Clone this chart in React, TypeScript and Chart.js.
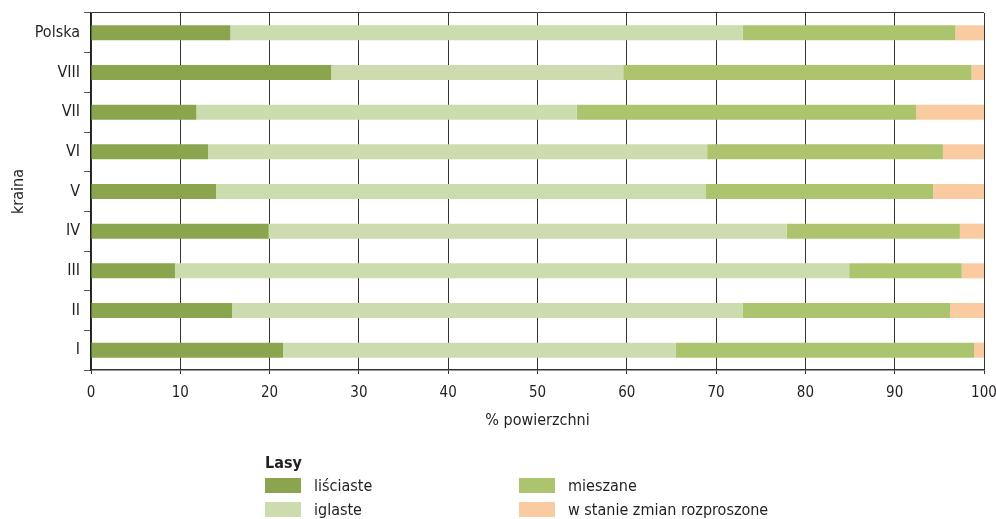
import React, { useEffect, useRef } from "react";
import { Chart, registerables } from "chart.js";

Chart.register(...registerables);

const categories = ["Polska", "VIII", "VII", "VI", "V", "IV", "III", "II", "I"];
const lisciaste = [15.6, 26.9, 11.8, 13.1, 14.0, 19.9, 9.4, 15.8, 21.5];
const iglaste = [57.4, 32.7, 42.6, 55.9, 54.8, 58.0, 75.5, 57.2, 44.0];
const mieszane = [23.8, 39.0, 38.0, 26.4, 25.5, 19.4, 12.6, 23.2, 33.4];
const rozproszone = [3.2, 1.4, 7.6, 4.6, 5.7, 2.7, 2.5, 3.8, 1.1];
const seriesNames = ["liściaste", "iglaste", "mieszane", "w stanie zmian rozproszone"];
const seriesColors = ["#8ba54e", "#cddcae", "#adc46e", "#facba0"];
const xTicks = [0, 10, 20, 30, 40, 50, 60, 70, 80, 90, 100];

const FONT = '"Liberation Sans Narrow", "DejaVu Sans Condensed", "Roboto", sans-serif';
const TEXT = "#231f20";
const GRID = "#333333";

export default function App() {
  const ref = useRef<HTMLCanvasElement | null>(null);
  useEffect(() => {
    document.body.style.margin = "0";
    if (!ref.current) return;
    const values = [lisciaste, iglaste, mieszane, rozproszone];
    const chart = new Chart(ref.current, {
      type: "bar",
      data: {
        labels: categories,
        datasets: values.map((v, i) => ({
          label: seriesNames[i],
          data: v,
          backgroundColor: seriesColors[i],
          borderWidth: 0,
          barPercentage: 0.38,
          categoryPercentage: 1,
        })),
      },
      options: {
        indexAxis: "y",
        animation: false,
        responsive: false,
        maintainAspectRatio: false,
        layout: { padding: { left: 0, right: 12, top: 13, bottom: 89 } },
        plugins: { legend: { display: false }, tooltip: { enabled: false } },
        scales: {
          x: {
            stacked: true,
            min: 0,
            max: 100,
            afterBuildTicks: (s: any) => {
              s.ticks = xTicks.map((v) => ({ value: v }));
            },
            afterFit: (s: any) => {
              s.height = 60;
              s.paddingLeft = 0;
              s.paddingRight = 0;
            },
            grid: { color: GRID, lineWidth: 1, tickLength: 4, drawTicks: true },
            border: { display: true, color: GRID, width: 1.5 },
            ticks: { color: TEXT, font: { family: FONT, size: 15 }, padding: 10, maxRotation: 0 },
            title: {
              display: true,
              text: "% powierzchni",
              color: TEXT,
              font: { family: FONT, size: 16 },
              padding: { top: 2, bottom: 0 },
            },
          },
          y: {
            stacked: true,
            afterFit: (s: any) => {
              s.width = 91;
              s.paddingTop = 0;
              s.paddingBottom = 0;
            },
            grid: {
              offset: true,
              drawOnChartArea: true,
              drawTicks: true,
              tickLength: 7,
              color: (ctx: any) => (ctx.index === 0 ? GRID : "rgba(0,0,0,0)"),
              tickColor: "#555",
            },
            border: { display: true, color: "#222", width: 1.5 },
            ticks: { color: TEXT, font: { family: FONT, size: 16 }, padding: 4 },
            title: {
              display: true,
              text: "kraina",
              color: TEXT,
              font: { family: FONT, size: 16 },
              padding: { top: 9, bottom: 0 },
            },
          },
        },
      },
    });
    return () => chart.destroy();
  }, []);

  const legendItem = (i: number, left: number, top: number) => (
    <div key={i} style={{ position: "absolute", left, top, display: "flex", alignItems: "center" }}>
      <div style={{ width: 36, height: 15, background: seriesColors[i] }} />
      <span style={{ marginLeft: 13, fontFamily: FONT, fontSize: 16, color: TEXT, lineHeight: "15px" }}>
        {seriesNames[i]}
      </span>
    </div>
  );

  return (
    <div style={{ position: "fixed", left: 0, top: 0, width: 996, height: 519, background: "#fff" }}>
      <canvas ref={ref} width={996} height={519} style={{ position: "absolute", left: 0, top: 0 }} />
      <div
        style={{
          position: "absolute",
          left: 265,
          top: 453,
          fontFamily: FONT,
          fontSize: 16,
          fontWeight: "bold",
          color: TEXT,
        }}
      >
        Lasy
      </div>
      {legendItem(0, 265, 478)}
      {legendItem(1, 265, 502)}
      {legendItem(2, 519, 478)}
      {legendItem(3, 519, 502)}
    </div>
  );
}
